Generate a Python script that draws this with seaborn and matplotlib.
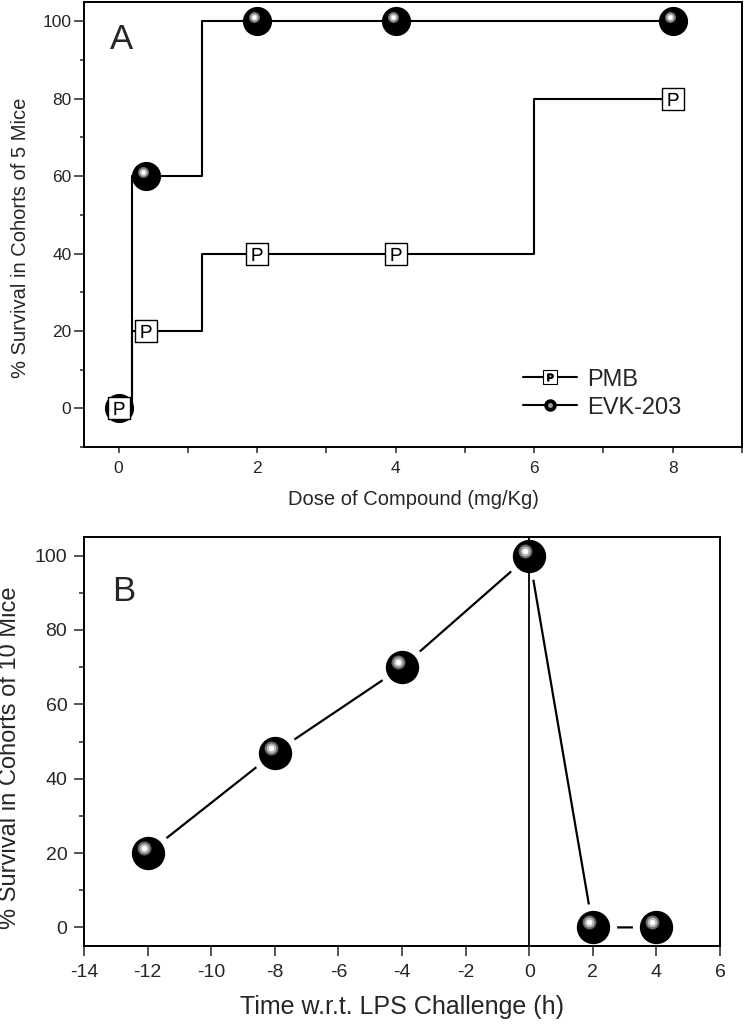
import matplotlib
matplotlib.use("Agg")
import matplotlib.pyplot as plt
from matplotlib.ticker import MultipleLocator
from matplotlib.transforms import offset_copy
from matplotlib.lines import Line2D
from matplotlib.legend_handler import HandlerTuple
import seaborn as sns

# === Data: panel A (dose response) ===
dose = [0, 0.4, 2, 4, 8]
evk_survival = [0, 60, 100, 100, 100]
pmb_survival = [0, 20, 40, 40, 80]

# === Data: panel B (timing w.r.t. LPS challenge) ===
time_h = [-12, -8, -4, 0, 2, 4]
evk_time_survival = [20, 47, 70, 100, 0, 0]

sns.set_style("ticks")
plt.rcParams["font.family"] = ["Liberation Sans", "DejaVu Sans"]
plt.rcParams["mathtext.fontset"] = "custom"
plt.rcParams["mathtext.sf"] = "Liberation Sans"
plt.rcParams["mathtext.rm"] = "Liberation Sans"
plt.rcParams["axes.linewidth"] = 1.4
plt.rcParams["axes.edgecolor"] = "black"
plt.rcParams["axes.unicode_minus"] = False

fig = plt.figure(figsize=(7.44, 10.24), dpi=100)
axA = fig.add_axes([84 / 744, 1 - 447 / 1024, (742 - 84) / 744, (447 - 2) / 1024])
axB = fig.add_axes([84 / 744, 1 - 946 / 1024, (720 - 84) / 744, (946 - 537) / 1024])


def ball(ax, x, y, size, hl_size, dx, dy, z=3):
    # black sphere with a grey/white highlight (offset up-left)
    sns.scatterplot(x=x, y=y, ax=ax, s=size, color="black", linewidth=0, zorder=z)
    off = offset_copy(ax.transData, fig=fig, x=dx, y=dy, units="dots")
    sns.scatterplot(x=x, y=y, ax=ax, s=hl_size, color="#6a6a6a", linewidth=0,
                    zorder=z + 0.1, transform=off)
    sns.scatterplot(x=x, y=y, ax=ax, s=hl_size * 0.5, color="#b8b8b8", linewidth=0,
                    zorder=z + 0.2, transform=off)
    sns.scatterplot(x=x, y=y, ax=ax, s=hl_size * 0.16, color="white", linewidth=0,
                    zorder=z + 0.3, transform=off)


# === Panel A ===
sns.lineplot(x=dose, y=evk_survival, ax=axA, color="black", lw=1.5,
             drawstyle="steps-mid", estimator=None, sort=False, zorder=2)
sns.lineplot(x=dose, y=pmb_survival, ax=axA, color="black", lw=1.5,
             drawstyle="steps-mid", estimator=None, sort=False, zorder=2)
ball(axA, dose, evk_survival, size=21 ** 2, hl_size=8 ** 2, dx=-3, dy=4, z=3)
sns.scatterplot(x=dose, y=pmb_survival, ax=axA, marker="s", s=16 ** 2,
                color="white", edgecolor="black", linewidth=1.0, zorder=4)
sns.scatterplot(x=dose, y=pmb_survival, ax=axA, marker=r"$\mathsf{P}$", s=9.5 ** 2,
                color="black", linewidth=0, zorder=5)

axA.set_xlim(-0.5, 9)
axA.set_ylim(-10, 105)
axA.xaxis.set_major_locator(MultipleLocator(2))
axA.xaxis.set_minor_locator(MultipleLocator(1))
axA.yaxis.set_major_locator(MultipleLocator(20))
axA.yaxis.set_minor_locator(MultipleLocator(10))
axA.tick_params(axis="y", which="major", length=7, width=1.1, labelsize=12.5, pad=2)
axA.tick_params(axis="y", which="minor", length=3, width=1.1)
axA.tick_params(axis="x", which="both", length=4, width=1.1, labelsize=12.5, pad=6)
axA.set_xlabel("Dose of Compound (mg/Kg)", fontsize=14.5, labelpad=10)
axA.set_ylabel("% Survival in Cohorts of 5 Mice", fontsize=14.5)
axA.yaxis.set_label_coords(-0.082, 0.469)
axA.text(0.04, 0.915, "A", transform=axA.transAxes, fontsize=25,
         ha="left", va="center")

pmb_handle = (Line2D([], [], color="black", lw=1.5, marker="s", ms=10,
                     mfc="white", mec="black", mew=0.8),
              Line2D([], [], color="black", lw=0, marker=r"$\mathsf{P}$", ms=5))
evk_handle = (Line2D([], [], color="black", lw=1.5, marker="o", ms=8,
                     mfc="black", mec="black"),
              Line2D([], [], color="#9a9a9a", lw=0, marker="o", ms=2.5))
axA.legend([pmb_handle, evk_handle], ["PMB", "EVK-203"],
           handler_map={tuple: HandlerTuple(ndivide=1, pad=0)},
           loc="center left", bbox_to_anchor=(0.667, 0.12), frameon=False,
           borderpad=0, borderaxespad=0,
           fontsize=17, handlelength=2.3, handletextpad=0.4, labelspacing=0.25)

# === Panel B ===
sns.lineplot(x=time_h, y=evk_time_survival, ax=axB, color="black", lw=1.6,
             estimator=None, sort=False, zorder=1)
# white halo gives the gap between line and marker
sns.scatterplot(x=time_h, y=evk_time_survival, ax=axB, s=34 ** 2, color="white",
                linewidth=0, zorder=2)
axB.axvline(0, color="black", lw=1.3, zorder=2.2)
ball(axB, time_h, evk_time_survival, size=24 ** 2, hl_size=10 ** 2, dx=-4, dy=5, z=3)

axB.set_xlim(-14, 6)
axB.set_ylim(-5, 105)
axB.xaxis.set_major_locator(MultipleLocator(2))
axB.yaxis.set_major_locator(MultipleLocator(20))
axB.yaxis.set_minor_locator(MultipleLocator(10))
axB.tick_params(axis="y", which="major", length=7, width=1.1, labelsize=14, pad=5)
axB.tick_params(axis="y", which="minor", length=3.5, width=1.1)
axB.tick_params(axis="x", which="major", length=7, width=1.1, labelsize=14, pad=6)
axB.set_xlabel("Time w.r.t. LPS Challenge (h)", fontsize=18, labelpad=10)
axB.set_ylabel("% Survival in Cohorts of 10 Mice", fontsize=17)
axB.yaxis.set_label_coords(-0.099, 0.46)
axB.text(0.044, 0.866, "B", transform=axB.transAxes, fontsize=25,
         ha="left", va="center")

fig.savefig("out.png", dpi=100)
